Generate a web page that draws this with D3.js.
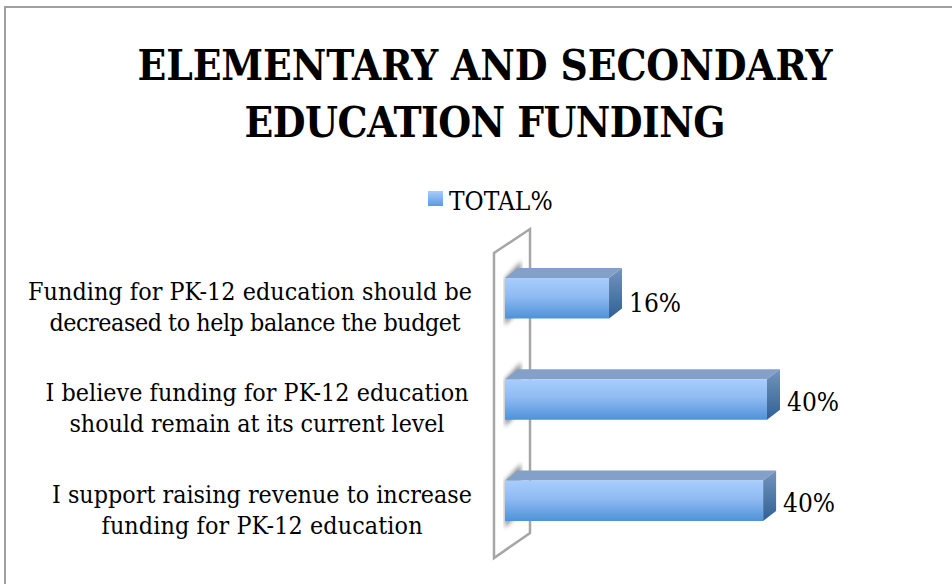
<!DOCTYPE html>
<html>
<head>
<meta charset="utf-8">
<script src="https://cdnjs.cloudflare.com/ajax/libs/d3/7.8.5/d3.min.js"></script>
<style>
  html, body { margin: 0; padding: 0; background: #fff; }
  text { font-family: "DejaVu Serif Condensed", "DejaVu Serif", serif; fill: #000; }
</style>
</head>
<body>
<svg id="chart" width="952" height="584"></svg>
<script>
const titleLines = ['ELEMENTARY AND SECONDARY', 'EDUCATION FUNDING'];
const seriesName = 'TOTAL%';
const categories = [
    ['Funding for PK-12 education should be', 'decreased to help balance the budget'],
    ['I believe funding for PK-12 education', 'should remain at its current level'],
    ['I support raising revenue to increase', 'funding for PK-12 education']
];
const values = [16, 40.3, 39.7];

const DEPTH_X = 13;
const DEPTH_Y = 10;

const svg = d3.select('#chart');
const defs = svg.append('defs');

const addGradient = (id, stops) => {
    const g = defs.append('linearGradient').attr('id', id)
        .attr('x1', 0).attr('y1', 0).attr('x2', 0).attr('y2', 1);
    stops.forEach(s => g.append('stop').attr('offset', s[0]).attr('stop-color', s[1]));
};
addGradient('barFront', [[0, '#a8cdfd'], [0.45, '#8fbbf2'], [1, '#4f92d8']]);
addGradient('barSide', [[0, '#7494bc'], [1, '#2f6195']]);
addGradient('legendKey', [[0, '#a8cdfd'], [1, '#5a9ade']]);
defs.append('filter').attr('id', 'blur').append('feGaussianBlur').attr('stdDeviation', 2);

// outer chart frame
svg.append('path')
    .attr('d', 'M5,584V7H952')
    .attr('fill', 'none')
    .attr('stroke', '#a0a0a0')
    .attr('stroke-width', 2);

const titleWidths = [695, 481];
svg.selectAll('text.title')
    .data(titleLines)
    .join('text')
    .attr('class', 'title')
    .attr('x', 485)
    .attr('y', (d, i) => 80 + i * 57)
    .attr('text-anchor', 'middle')
    .attr('font-size', 42)
    .attr('font-weight', 'bold')
    .attr('textLength', (d, i) => titleWidths[i])
    .text(d => d);

// legend
svg.append('rect')
    .attr('x', 428).attr('y', 191)
    .attr('width', 15).attr('height', 15)
    .attr('fill', 'url(#legendKey)');
svg.append('text')
    .attr('x', 449).attr('y', 210)
    .attr('font-size', 26)
    .text(seriesName);

const x = d3.scaleLinear().domain([0, 40.3]).range([505, 767]);
const y = d3.scaleBand().domain(d3.range(categories.length)).range([278, 521]).paddingInner(0.6);

// the slanted axis wall
svg.append('path')
    .attr('d', `M494,253L530,229V533L494,558Z`)
    .attr('fill', '#fff')
    .attr('stroke', '#a6a6a6')
    .attr('stroke-width', 2.5);

const bars = svg.selectAll('g.bar')
    .data(values)
    .join('g')
    .attr('class', 'bar');

// soft shadow cast on the wall
bars.append('path')
    .attr('d', (d, i) => {
        const top = y(i);
        const bot = top + y.bandwidth();
        return `M${x(0)},${top}L${x(0) + 16},${top - 17}V${bot - DEPTH_Y}L${x(0)},${bot + 7}Z`;
    })
    .attr('fill', '#808080')
    .attr('opacity', 0.85)
    .attr('filter', 'url(#blur)');

bars.append('path')
    .attr('d', (d, i) => {
        const top = y(i);
        return `M${x(0)},${top}L${x(0) + DEPTH_X},${top - DEPTH_Y}H${x(d) + DEPTH_X}L${x(d)},${top}Z`;
    })
    .attr('fill', '#83a0c8');

bars.append('path')
    .attr('d', (d, i) => {
        const top = y(i);
        const bot = top + y.bandwidth();
        return `M${x(d)},${top}L${x(d) + DEPTH_X},${top - DEPTH_Y}V${bot - DEPTH_Y}L${x(d)},${bot}Z`;
    })
    .attr('fill', 'url(#barSide)');

bars.append('rect')
    .attr('x', x(0))
    .attr('y', (d, i) => y(i))
    .attr('width', d => x(d) - x(0))
    .attr('height', y.bandwidth())
    .attr('fill', 'url(#barFront)');

// value labels
const valueLabelOffsets = [34, 32, 31];
bars.append('text')
    .attr('x', d => x(d) + 20)
    .attr('y', (d, i) => y(i) + valueLabelOffsets[i])
    .attr('font-size', 26)
    .text(d => d3.format('.0f')(d) + '%');

// category labels, two lines each
const labelCenters = [[250, 255], [257, 257], [262, 262]];
const labelWidths = [[444, 411], [423, 375], [420, 321]];
categories.forEach((lines, i) => {
    svg.selectAll(null)
        .data(lines)
        .join('text')
        .attr('x', (d, k) => labelCenters[i][k])
        .attr('y', (d, k) => y(i) + 22 + k * 31)
        .attr('text-anchor', 'middle')
        .attr('font-size', 24.8)
        .attr('textLength', (d, k) => labelWidths[i][k])
        .text(d => d);
});
</script>
</body>
</html>
